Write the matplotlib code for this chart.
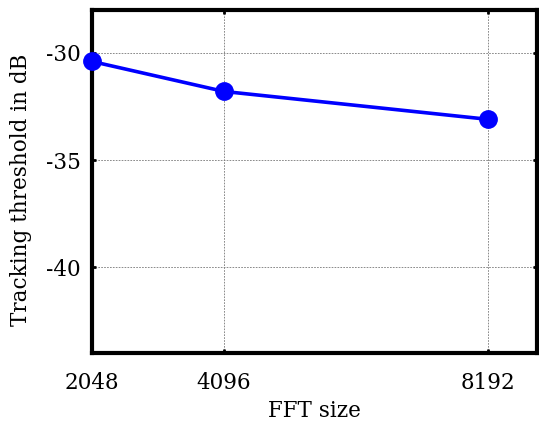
import matplotlib
matplotlib.use("Agg")
import matplotlib.pyplot as plt

# data
fft_size = [2048, 4096, 8192]
threshold_db = [-30.4, -31.8, -33.1]
xtick_labels = ["2048", "4096", "8192"]
yticks = [-30, -35, -40]

plt.rcParams['font.family'] = ['DejaVu Serif']
plt.rcParams['axes.unicode_minus'] = False

fig = plt.figure(figsize=(5.39, 4.26), dpi=100)
ax = fig.add_axes([0.1707, 0.1714, 0.8256, 0.8051])

ax.plot(fft_size, threshold_db, color='#0000ff', lw=2.6, marker='o', ms=12.5,
        clip_on=False, zorder=3)

ax.set_xlim(2048, 8950)
ax.set_ylim(-44, -28)
ax.set_xticks(fft_size)
ax.set_xticklabels(xtick_labels)
ax.set_yticks(yticks)

ax.grid(True, color='#777777', ls=(0, (2, 1.5)), lw=0.6)
for s in ax.spines.values():
    s.set_linewidth(3)
ax.tick_params(direction='in', length=3, width=2, top=True, right=True,
               labelsize=15.5, pad=8)
ax.tick_params(axis='x', pad=14)

ax.set_xlabel("FFT size", fontsize=15.5, labelpad=4)
ax.set_ylabel("Tracking threshold in dB", fontsize=15.5)
ax.yaxis.set_label_coords(-0.135, 0.475)

fig.savefig("out.png", dpi=100)
